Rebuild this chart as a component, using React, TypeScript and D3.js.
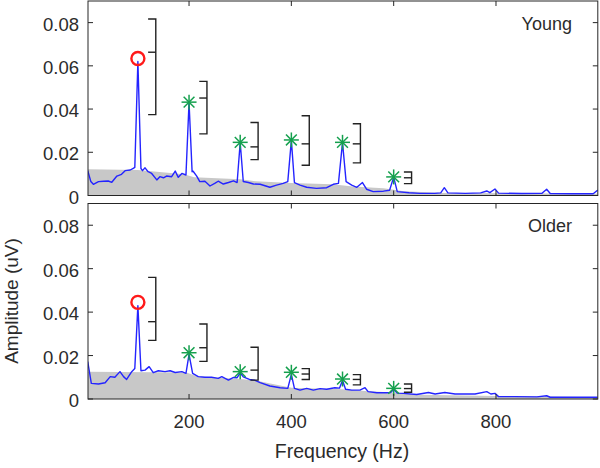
import React from "react";
import * as d3 from "d3";

// ---------- DATA ----------
const harmonics = [100, 200, 300, 400, 500, 600];

const youngFreq = [2, 8, 13, 23, 33, 42, 49, 59, 68, 75, 85, 91, 94, 100, 106, 109, 114, 120, 127, 137, 143, 150, 156, 166, 173, 179, 186, 194, 200, 206, 208, 215, 221, 231, 241, 251, 257, 267, 277, 287, 294, 300, 306, 316, 326, 339, 358, 371, 384, 393, 400, 406, 417, 430, 449, 469, 482, 492, 500, 507, 518, 528, 539, 547, 560, 580, 592, 600, 607, 630, 651, 680, 692, 699, 706, 740, 770, 782, 788, 798, 805, 850, 890, 899, 906, 950, 990, 999];
const youngAmp = [0.0115, 0.0065, 0.0052, 0.0064, 0.0066, 0.0067, 0.0061, 0.009, 0.0098, 0.0115, 0.0118, 0.0126, 0.013, 0.062, 0.0125, 0.0115, 0.0128, 0.011, 0.0102, 0.0072, 0.0087, 0.0082, 0.009, 0.0087, 0.0113, 0.0084, 0.0102, 0.0095, 0.043, 0.011, 0.0112, 0.009, 0.0064, 0.0066, 0.0044, 0.0057, 0.0066, 0.0053, 0.006, 0.0068, 0.006, 0.0245, 0.0065, 0.006, 0.0053, 0.0052, 0.0038, 0.0048, 0.0056, 0.0064, 0.0255, 0.006, 0.0048, 0.0038, 0.0033, 0.0036, 0.0052, 0.0056, 0.0245, 0.0064, 0.0048, 0.0038, 0.006, 0.0029, 0.0018, 0.002, 0.0024, 0.0085, 0.0018, 0.0013, 0.001, 0.001, 0.0012, 0.0036, 0.0012, 0.001, 0.0012, 0.0021, 0.0013, 0.003, 0.0011, 0.0009, 0.001, 0.0029, 0.0009, 0.0008, 0.0008, 0.0025];

const olderFreq = [2, 9, 23, 36, 46, 55, 65, 72, 78, 88, 94, 100, 106, 114, 122, 130, 140, 153, 163, 173, 186, 194, 200, 207, 218, 231, 244, 257, 264, 277, 287, 294, 300, 306, 318, 328, 339, 358, 378, 393, 400, 406, 417, 430, 443, 456, 469, 485, 494, 500, 506, 518, 534, 544, 550, 567, 586, 594, 600, 607, 619, 645, 668, 681, 700, 720, 759, 782, 790, 798, 805, 837, 880, 899, 906, 999];
const olderAmp = [0.0172, 0.0072, 0.0069, 0.0075, 0.0103, 0.01, 0.0126, 0.0103, 0.009, 0.0126, 0.014, 0.043, 0.013, 0.0133, 0.0149, 0.0121, 0.013, 0.0126, 0.013, 0.0122, 0.0126, 0.0118, 0.0205, 0.0118, 0.0103, 0.01, 0.01, 0.0095, 0.0103, 0.0087, 0.0099, 0.0098, 0.012, 0.0102, 0.009, 0.0087, 0.0075, 0.006, 0.0052, 0.0049, 0.0113, 0.0049, 0.0041, 0.0049, 0.0041, 0.0048, 0.0045, 0.0052, 0.005, 0.0085, 0.0045, 0.0041, 0.0041, 0.0052, 0.0034, 0.0029, 0.0029, 0.003, 0.0044, 0.0027, 0.0026, 0.0021, 0.003, 0.0023, 0.003, 0.0023, 0.0023, 0.0034, 0.0023, 0.0026, 0.0011, 0.0011, 0.001, 0.0015, 0.0008, 0.0008];

const youngFloorFreq = [2, 100, 190, 210, 300, 330, 400, 480, 520, 580, 620, 700, 999];
const youngFloorAmp = [0.0122, 0.0118, 0.0098, 0.0085, 0.0075, 0.0066, 0.0058, 0.0052, 0.0042, 0.0034, 0.002, 0.0012, 0.0008];
const olderFloorFreq = [2, 195, 215, 300, 330, 400, 500, 550, 600, 650, 800, 999];
const olderFloorAmp = [0.0125, 0.0122, 0.0105, 0.0092, 0.0085, 0.0052, 0.0045, 0.0036, 0.003, 0.002, 0.0014, 0.0008];

const youngPeak = [0.0634, 0.0432, 0.0246, 0.0257, 0.0246, 0.0086];
const olderPeak = [0.0445, 0.0213, 0.0126, 0.0123, 0.0092, 0.0049];

const youngLow = [0.0374, 0.0285, 0.0166, 0.014, 0.0151, 0.0055];
const youngMid = [0.0663, 0.0451, 0.0225, 0.0239, 0.0239, 0.0082];
const youngHigh = [0.0817, 0.0528, 0.0338, 0.0369, 0.0332, 0.0109];
const olderLow = [0.027, 0.0173, 0.0087, 0.009, 0.0065, 0.0031];
const olderMid = [0.0356, 0.0236, 0.0133, 0.0115, 0.009, 0.0048];
const olderHigh = [0.056, 0.0345, 0.0238, 0.014, 0.0112, 0.0069];

const yTicks = [0, 0.02, 0.04, 0.06, 0.08];
const yTickLabels = ["0", "0.02", "0.04", "0.06", "0.08"];
const xTicks = [200, 400, 600, 800];
const xTickLabels = ["200", "400", "600", "800"];

// ---------- LAYOUT ----------
const W = 600, H = 468;
const X0 = 88, X1 = 597.8;
const FONT = "'Liberation Sans', Arial, Helvetica, sans-serif";
const TXT = "#2b2b2b";

const x = d3.scaleLinear().domain([2.5, 999]).range([X0, X1]);

type PanelProps = {
  top: number; bottom: number; label: string; id: string;
  freq: number[]; amp: number[]; floorF: number[]; floorA: number[];
  peak: number[]; low: number[]; mid: number[]; high: number[];
  showXLabels: boolean;
};

function Star({ cx, cy }: { cx: number; cy: number }) {
  const r = 7.5, d = r * 0.72;
  return (
    <g stroke="#15a04e" strokeWidth={1.5}>
      <line x1={cx - r} y1={cy} x2={cx + r} y2={cy} />
      <line x1={cx} y1={cy - r} x2={cx} y2={cy + r} />
      <line x1={cx - d} y1={cy - d} x2={cx + d} y2={cy + d} />
      <line x1={cx - d} y1={cy + d} x2={cx + d} y2={cy - d} />
    </g>
  );
}

function Panel(p: PanelProps) {
  const y = d3.scaleLinear().domain([0, 0.09]).range([p.bottom, p.top]);
  const line = d3.line<number>().x((_, i) => x(p.freq[i])).y((v) => y(v));
  const area = d3.area<number>().x((_, i) => x(p.floorF[i])).y0(y(0)).y1((v) => y(v));
  const tl = 5;
  return (
    <g>
      <defs>
        <clipPath id={"clip" + p.id}>
          <rect x={X0} y={p.top} width={X1 - X0} height={p.bottom - p.top} />
        </clipPath>
      </defs>
      <rect x={X0} y={p.top} width={X1 - X0} height={p.bottom - p.top} fill="#fff" />
      <path d={area(p.floorA) || ""} fill="#c8c8c8" stroke="none" clipPath={`url(#clip${p.id})`} />
      <path d={line(p.amp) || ""} fill="none" stroke="#2424ff" strokeWidth={1.4} strokeLinejoin="round" clipPath={`url(#clip${p.id})`} />
      {harmonics.map((f, i) => {
        const bx = x(f + 35), sx = x(f + 20);
        return (
          <g key={"b" + i} stroke="#222" strokeWidth={1.4} fill="none">
            <path d={`M${sx},${y(p.high[i])}H${bx}V${y(p.low[i])}H${sx}`} />
            <line x1={sx} x2={bx} y1={y(p.mid[i])} y2={y(p.mid[i])} />
          </g>
        );
      })}
      {harmonics.map((f, i) =>
        i === 0 ? (
          <circle key={"m" + i} cx={x(f)} cy={y(p.peak[i])} r={6.5} fill="none" stroke="#ff1a1a" strokeWidth={2.4} />
        ) : (
          <Star key={"m" + i} cx={x(f)} cy={y(p.peak[i])} />
        )
      )}
      <rect x={X0} y={p.top} width={X1 - X0} height={p.bottom - p.top} fill="none" stroke="#262626" strokeWidth={1} />
      {yTicks.map((t, i) => (
        <g key={"yt" + i}>
          <line x1={X0} x2={X0 + tl} y1={y(t)} y2={y(t)} stroke="#262626" />
          <line x1={X1 - tl} x2={X1} y1={y(t)} y2={y(t)} stroke="#262626" />
          <text x={X0 - 9} y={y(t) + 8} textAnchor="end" fontSize={18.5} fontFamily={FONT} fill={TXT}>{yTickLabels[i]}</text>
        </g>
      ))}
      {xTicks.map((t, i) => (
        <g key={"xt" + i}>
          <line x1={x(t)} x2={x(t)} y1={p.bottom} y2={p.bottom - tl} stroke="#262626" />
          <line x1={x(t)} x2={x(t)} y1={p.top} y2={p.top + tl} stroke="#262626" />
          {p.showXLabels && (
            <text x={x(t)} y={p.bottom + 28.5} textAnchor="middle" fontSize={18.5} fontFamily={FONT} fill={TXT}>{xTickLabels[i]}</text>
          )}
        </g>
      ))}
      <text x={572} y={p.top + 28.5} textAnchor="end" fontSize={18} fontFamily={FONT} fill={TXT}>{p.label}</text>
    </g>
  );
}

export default function App() {
  return (
    <svg width={W} height={H} style={{ position: "absolute", left: 0, top: 0, background: "#fff" }}>
      <Panel id="a" top={1} bottom={195.5} label="Young" freq={youngFreq} amp={youngAmp}
        floorF={youngFloorFreq} floorA={youngFloorAmp} peak={youngPeak}
        low={youngLow} mid={youngMid} high={youngHigh} showXLabels={false} />
      <Panel id="b" top={203.5} bottom={399} label="Older" freq={olderFreq} amp={olderAmp}
        floorF={olderFloorFreq} floorA={olderFloorAmp} peak={olderPeak}
        low={olderLow} mid={olderMid} high={olderHigh} showXLabels={true} />
      <text x={342} y={458} textAnchor="middle" fontSize={19.5} fontFamily={FONT} fill={TXT}>Frequency (Hz)</text>
      <text transform="translate(18,301) rotate(-90)" textAnchor="middle" fontSize={19} fontFamily={FONT} fill={TXT}>Amplitude (uV)</text>
    </svg>
  );
}
